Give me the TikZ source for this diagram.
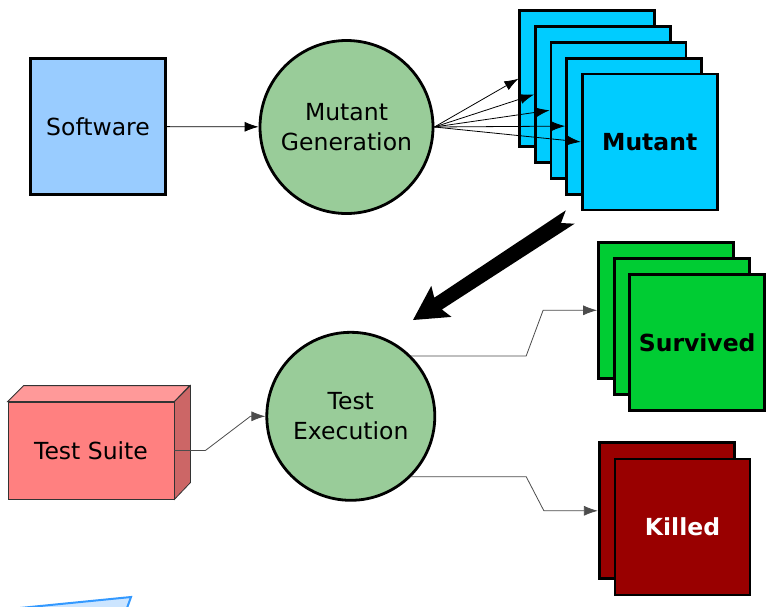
\documentclass[tikz,border=0pt]{standalone}
\usepackage{fontspec}
\setmainfont{DejaVu Sans}
\usepackage{tikz}
\usetikzlibrary{shapes,arrows.meta}
\usetikzlibrary{positioning,calc}

\definecolor{swblue}{HTML}{99CCFF}
\definecolor{procgreen}{HTML}{99CC99}
\definecolor{mutblue}{HTML}{00CCFF}
\definecolor{survgreen}{HTML}{00CC33}
\definecolor{killred}{HTML}{990000}
\definecolor{suitered}{HTML}{FF8080}
\definecolor{suitetop}{HTML}{FF9999}
\definecolor{suiteside}{HTML}{CC6666}
\definecolor{planeblue}{HTML}{3399FF}
\definecolor{planefill}{HTML}{CCE5FF}

\begin{document}
\begin{tikzpicture}
[
   x=1pt, y=-1pt, font=\fontsize{23.5}{30}\selectfont,
   box/.style={draw, line width=2.8pt, minimum width=135pt, minimum height=136pt, inner sep=0pt},
   proc/.style={circle, draw, line width=2.8pt, fill=procgreen, align=center, inner sep=0pt},
   conn/.style={-{Latex[length=14pt,width=10pt]}, line width=0.8pt},
   face/.style={draw=black!80, line width=0.8pt}]
\fill[white] (0,0) rectangle (769,606);
\useasboundingbox (0,0) rectangle (769,606);

% top row
\node[box, fill=swblue] (sw) at (98,126.5) {Software};
\node[proc, minimum size=173pt] (mg) at (346.5,127) {Mutant\\Generation};
\draw[conn] (sw) -- (mg);

\foreach \i in {1,...,4}
   \node[box, fill=mutblue] (m\i) at ({587.3+15.6*(\i-1)},{78.7+15.8*(\i-1)}) {};
\node[box, fill=mutblue] (m5) at (649.7,141.9) {\textbf{Mutant}};
\foreach \i in {1,...,5}
   \draw[conn] (mg.east) -- (m\i.west);

% big arrow down
\fill (413,320) -- (431.3,285.9) -- (434.3,297.7) -- (565.8,210.3) -- (561,223)
   -- (574.6,223.7) -- (441.9,309.5) -- (451.5,316.9) -- cycle;

% bottom row
\node[face, fill=suitered, minimum width=166pt, minimum height=97pt] (ts) at (91,450.5) {Test Suite};
\draw[face, fill=suitetop] (ts.north west) -- ++(16,-16) -- ++(166,0) -- (ts.north east) -- cycle;
\draw[face, fill=suiteside] (ts.north east) -- ++(16,-16) -- ++(0,97) -- (ts.south east) -- cycle;

\node[proc, minimum size=168pt] (te) at (350.8,416.3) {Test\\Execution};

\foreach \i in {1,2}
   \node[box, fill=survgreen] (s\i) at ({666+15.6*(\i-1)},{310.3+16*(\i-1)}) {};
\node[box, fill=survgreen] (s3) at (697.2,342.3) {\textbf{Survived}};

\node[box, fill=killred] (k1) at (666.8,510.8) {};
\node[box, fill=killred, text=white] (k2) at (682.5,527) {\textbf{Killed}};

\draw[conn, black!70] (ts.east) -- ++(31,0) -- ($(te.west)+(-15,0)$) -- (te.west);
\draw[conn, black!70] (te.45) -- ++(115,0) -- ($(s1.west)+(-54,0)$) -- (s1.west);
\draw[conn, black!70] (te.-45) -- ++(115,0) -- ($(k1.west)+(-54,0)$) -- (k1.west);

% cut-off shape at the bottom edge
\draw[planeblue, fill=planefill, line width=2pt] (20,608) -- (131,597) -- (127,608);
\end{tikzpicture}
\end{document}
